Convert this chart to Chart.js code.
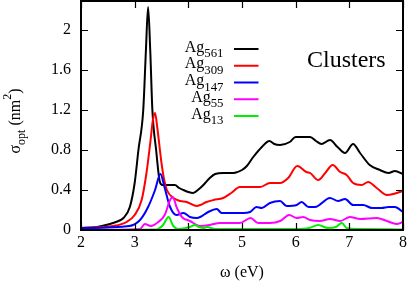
<!DOCTYPE html>
<html>
<head>
<meta charset="utf-8">
<script src="https://cdn.jsdelivr.net/npm/chart.js@4.4.1/dist/chart.umd.min.js"></script>
<style>
  html, body { margin: 0; padding: 0; background: #fff; }
</style>
</head>
<body>
<canvas id="specChart" width="409" height="282"></canvas>
<script>
const xTicks = [2, 3, 4, 5, 6, 7, 8];
const yTicks = [0, 0.4, 0.8, 1.2, 1.6, 2];

const clusterSizes = ['561', '309', '147', '55', '13'];
const lineColors = ['#000000', '#ff0000', '#0000ff', '#ff00ff', '#00ee00'];

// photon energy (eV) and cross section (nm^2) for each cluster
const ag561X = [2.0, 2.3, 2.54, 2.7, 2.79, 2.91, 3.0, 3.07, 3.16, 3.21, 3.25, 3.29, 3.33, 3.40, 3.47, 3.52, 3.65, 3.75, 3.83, 3.91, 4.0, 4.09, 4.2, 4.28, 4.40, 4.5, 4.65, 4.84, 5.0, 5.09, 5.21, 5.37, 5.51, 5.6, 5.71, 5.89, 6.0, 6.11, 6.27, 6.38, 6.48, 6.64, 6.78, 6.92, 7.07, 7.2, 7.38, 7.57, 7.73, 7.85, 8.0];
const ag561Y = [0.02, 0.03, 0.06, 0.09, 0.12, 0.23, 0.47, 0.80, 1.20, 1.80, 2.23, 1.80, 1.20, 0.80, 0.48, 0.45, 0.45, 0.45, 0.42, 0.40, 0.38, 0.37, 0.41, 0.45, 0.52, 0.56, 0.57, 0.57, 0.60, 0.64, 0.73, 0.83, 0.89, 0.86, 0.85, 0.88, 0.93, 0.93, 0.93, 0.89, 0.86, 0.90, 0.83, 0.77, 0.86, 0.77, 0.65, 0.60, 0.57, 0.59, 0.56];

const ag309X = [2.0, 2.6, 2.85, 3.0, 3.13, 3.22, 3.29, 3.34, 3.38, 3.42, 3.50, 3.55, 3.6, 3.72, 3.85, 3.97, 4.16, 4.22, 4.34, 4.47, 4.65, 4.8, 4.96, 5.15, 5.34, 5.52, 5.71, 5.86, 6.03, 6.2, 6.27, 6.42, 6.55, 6.69, 6.83, 6.95, 7.07, 7.23, 7.35, 7.51, 7.70, 7.82, 8.0];
const ag309Y = [0.02, 0.04, 0.08, 0.15, 0.30, 0.57, 0.87, 1.10, 1.17, 1.03, 0.67, 0.50, 0.40, 0.32, 0.29, 0.28, 0.24, 0.25, 0.28, 0.30, 0.32, 0.37, 0.43, 0.43, 0.43, 0.47, 0.47, 0.52, 0.64, 0.58, 0.57, 0.50, 0.57, 0.65, 0.58, 0.55, 0.47, 0.45, 0.48, 0.42, 0.35, 0.36, 0.39];

const ag147X = [2.0, 2.9, 3.1, 3.25, 3.38, 3.48, 3.56, 3.66, 3.78, 3.91, 4.03, 4.16, 4.22, 4.37, 4.53, 4.62, 4.81, 5.02, 5.15, 5.27, 5.37, 5.52, 5.71, 5.83, 6.02, 6.11, 6.24, 6.36, 6.64, 6.79, 6.92, 7.07, 7.26, 7.42, 7.60, 7.73, 7.85, 8.0];
const ag147Y = [0.02, 0.04, 0.10, 0.23, 0.40, 0.56, 0.42, 0.23, 0.15, 0.17, 0.13, 0.12, 0.13, 0.18, 0.21, 0.17, 0.17, 0.17, 0.18, 0.23, 0.22, 0.27, 0.29, 0.24, 0.25, 0.28, 0.23, 0.23, 0.32, 0.29, 0.31, 0.25, 0.25, 0.22, 0.22, 0.23, 0.23, 0.18];

const ag55X = [2.0, 3.1, 3.19, 3.30, 3.44, 3.56, 3.66, 3.71, 3.78, 3.88, 4.03, 4.22, 4.4, 4.59, 4.78, 4.96, 5.16, 5.30, 5.52, 5.71, 5.88, 6.02, 6.14, 6.27, 6.45, 6.64, 6.83, 7.01, 7.2, 7.51, 7.70, 7.88, 8.0];
const ag55Y = [0.0, 0.01, 0.06, 0.04, 0.08, 0.15, 0.30, 0.33, 0.23, 0.13, 0.09, 0.04, 0.05, 0.07, 0.07, 0.07, 0.12, 0.07, 0.07, 0.09, 0.15, 0.12, 0.13, 0.10, 0.09, 0.11, 0.09, 0.13, 0.11, 0.12, 0.09, 0.06, 0.08];

const ag13X = [2.0, 3.4, 3.53, 3.63, 3.72, 3.81, 3.95, 4.03, 4.12, 4.2, 4.28, 4.35, 4.5, 5.0, 5.5, 6.0, 6.25, 6.42, 6.6, 6.75, 6.86, 6.95, 7.2, 8.0];
const ag13Y = [0.0, 0.005, 0.05, 0.13, 0.04, 0.01, 0.02, 0.03, 0.05, 0.03, 0.02, 0.03, 0.01, 0.01, 0.01, 0.01, 0.02, 0.05, 0.02, 0.03, 0.07, 0.02, 0.01, 0.005];

const seriesX = [ag561X, ag309X, ag147X, ag55X, ag13X];
const seriesY = [ag561Y, ag309Y, ag147Y, ag55Y, ag13Y];

const serif = "'Liberation Serif', 'DejaVu Serif', serif";

// inward ticks on all four sides plus the box
const framePlugin = {
    id: 'frame',
    afterDatasetsDraw(chart) {
        const { ctx, chartArea: a, scales } = chart;
        ctx.save();
        ctx.strokeStyle = '#000';
        ctx.lineWidth = 1.2;
        ctx.beginPath();
        xTicks.forEach(v => {
            const px = Math.round(scales.x.getPixelForValue(v)) + 0.5;
            ctx.moveTo(px, a.bottom); ctx.lineTo(px, a.bottom - 7);
            ctx.moveTo(px, a.top); ctx.lineTo(px, a.top + 7);
        });
        yTicks.forEach(v => {
            const py = Math.round(scales.y.getPixelForValue(v)) + 0.5;
            ctx.moveTo(a.left, py); ctx.lineTo(a.left + 7, py);
            ctx.moveTo(a.right, py); ctx.lineTo(a.right - 7, py);
        });
        ctx.stroke();
        ctx.lineWidth = 2;
        ctx.strokeRect(a.left, a.top, a.right - a.left, a.bottom - a.top);
        ctx.restore();
    }
};

// key with subscripts, the "Clusters" label and the y title
const labelPlugin = {
    id: 'labels',
    afterDraw(chart) {
        const ctx = chart.ctx;
        ctx.save();
        ctx.fillStyle = '#000';
        ctx.textBaseline = 'alphabetic';

        clusterSizes.forEach((n, i) => {
            const ly = 49 + i * 16.75;
            ctx.font = '16px ' + serif;
            const wMain = ctx.measureText('Ag').width;
            ctx.font = '12.8px ' + serif;
            const wSub = ctx.measureText(n).width;
            const x0 = 223.5 - wMain - wSub;
            ctx.font = '16px ' + serif;
            ctx.fillText('Ag', x0, ly + 2.5);
            ctx.font = '12.8px ' + serif;
            ctx.fillText(n, x0 + wMain, ly + 8);
            ctx.strokeStyle = lineColors[i];
            ctx.lineWidth = 2;
            ctx.beginPath();
            ctx.moveTo(234, ly);
            ctx.lineTo(258.5, ly);
            ctx.stroke();
        });

        ctx.font = '24px ' + serif;
        ctx.fillText('Clusters', 307, 66.5);

        // rotated y title: sigma_opt (nm^2)
        const parts = [
            { t: '\u03c3', size: 16, dy: 0 },
            { t: 'opt', size: 12, dy: 5 },
            { t: ' (nm', size: 16, dy: 0 },
            { t: '2', size: 12, dy: -8.5 },
            { t: ')', size: 16, dy: 0 }
        ];
        let total = 0;
        parts.forEach(p => {
            ctx.font = p.size + 'px ' + serif;
            p.w = ctx.measureText(p.t).width;
            total += p.w;
        });
        ctx.translate(19.5, 121);
        ctx.rotate(-Math.PI / 2);
        let cx = -total / 2;
        parts.forEach(p => {
            ctx.font = p.size + 'px ' + serif;
            ctx.fillText(p.t, cx, p.dy);
            cx += p.w;
        });
        ctx.restore();
    }
};

const ctx = document.getElementById('specChart').getContext('2d');

const specChart = new Chart(ctx, {
    type: 'line',
    data: {
        datasets: clusterSizes.map((n, i) => ({
            label: 'Ag' + n,
            data: seriesX[i].map((x, k) => ({ x: x, y: seriesY[i][k] })),
            borderColor: lineColors[i],
            borderWidth: 2,
            pointRadius: 0,
            fill: false,
            cubicInterpolationMode: 'monotone',
            order: 5 - i
        }))
    },
    options: {
        responsive: false,
        animation: false,
        devicePixelRatio: 1,
        layout: { padding: { left: 0, right: 6, top: 1, bottom: 0 } },
        plugins: {
            legend: { display: false },
            tooltip: { enabled: false }
        },
        scales: {
            x: {
                type: 'linear',
                min: 2,
                max: 8,
                afterBuildTicks: s => { s.ticks = xTicks.map(v => ({ value: v })); },
                afterFit: s => {
                    s.height = 52;
                    s.paddingLeft = 0; s.paddingRight = 0;
                    s.paddingTop = 0; s.paddingBottom = 0;
                },
                grid: { display: false, drawTicks: false },
                border: { display: false },
                ticks: {
                    padding: 3,
                    color: '#000',
                    font: { family: serif, size: 16 },
                    callback: v => String(v)
                },
                title: {
                    display: true,
                    text: '\u03c9 (eV)',
                    color: '#000',
                    font: { family: serif, size: 16 },
                    padding: { top: 0, bottom: 0 }
                }
            },
            y: {
                type: 'linear',
                min: 0,
                max: 2.29,
                afterBuildTicks: s => { s.ticks = yTicks.map(v => ({ value: v })); },
                afterFit: s => {
                    s.width = 81;
                    s.paddingLeft = 0; s.paddingRight = 0;
                    s.paddingTop = 0; s.paddingBottom = 0;
                },
                grid: { display: false, drawTicks: false },
                border: { display: false },
                ticks: {
                    padding: 10,
                    color: '#000',
                    font: { family: serif, size: 16 },
                    callback: v => String(v)
                }
            }
        }
    },
    plugins: [framePlugin, labelPlugin]
});
</script>
</body>
</html>
